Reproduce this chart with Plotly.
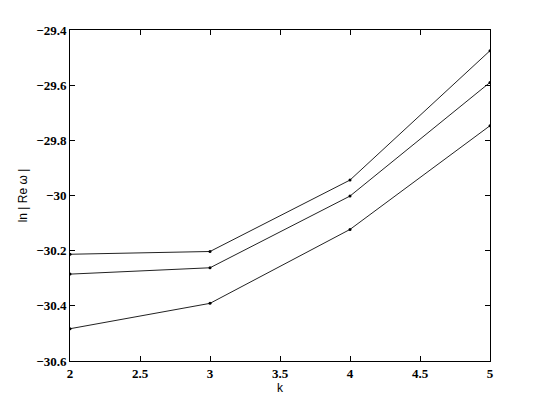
import plotly.graph_objects as go

# ================== DATA ==================
k = [2, 3, 4, 5]
line_top = [-30.213, -30.203, -29.944, -29.475]
line_mid = [-30.285, -30.262, -30.002, -29.590]
line_bot = [-30.483, -30.391, -30.123, -29.747]

x_ticks = [2, 2.5, 3, 3.5, 4, 4.5, 5]
x_labels = ['2', '2.5', '3', '3.5', '4', '4.5', '5']
y_ticks = [-29.4, -29.6, -29.8, -30, -30.2, -30.4, -30.6]
y_labels = ['\u221229.4', '\u221229.6', '\u221229.8', '\u221230', '\u221230.2', '\u221230.4', '\u221230.6']

fig = go.Figure()
for ys in [line_top, line_mid, line_bot]:
    fig.add_trace(go.Scatter(x=k, y=ys, mode='lines+markers',
                             line=dict(color='#222222', width=1),
                             marker=dict(color='black', size=3),
                             showlegend=False))

# bold Times-like tick labels, like the original matlab export
tick_font = dict(family='Liberation Serif', size=13, color='black', weight=700)
axis_common = dict(showgrid=False, zeroline=False, showline=True, linecolor='black',
                   linewidth=1, mirror='ticks', ticks='inside', ticklen=5,
                   tickcolor='black', tickfont=tick_font, automargin=False)

fig.update_xaxes(range=[2, 5], tickvals=x_ticks, ticktext=x_labels,
                 title=dict(text='k', font=dict(family='Liberation Sans', size=12, color='black'), standoff=4),
                 **axis_common)
fig.update_yaxes(range=[-30.6, -29.4], tickvals=y_ticks, ticktext=y_labels,
                 title=dict(text='ln | Re \u03c9 |', font=dict(family='Liberation Sans', size=12, color='black'), standoff=6),
                 **axis_common)

# page body has an 8px margin, so shift the plot area back to match
fig.update_layout(width=540, height=406, margin=dict(l=62, r=58, t=22, b=53),
                  plot_bgcolor='white', paper_bgcolor='white')

fig.write_html("out.html")
